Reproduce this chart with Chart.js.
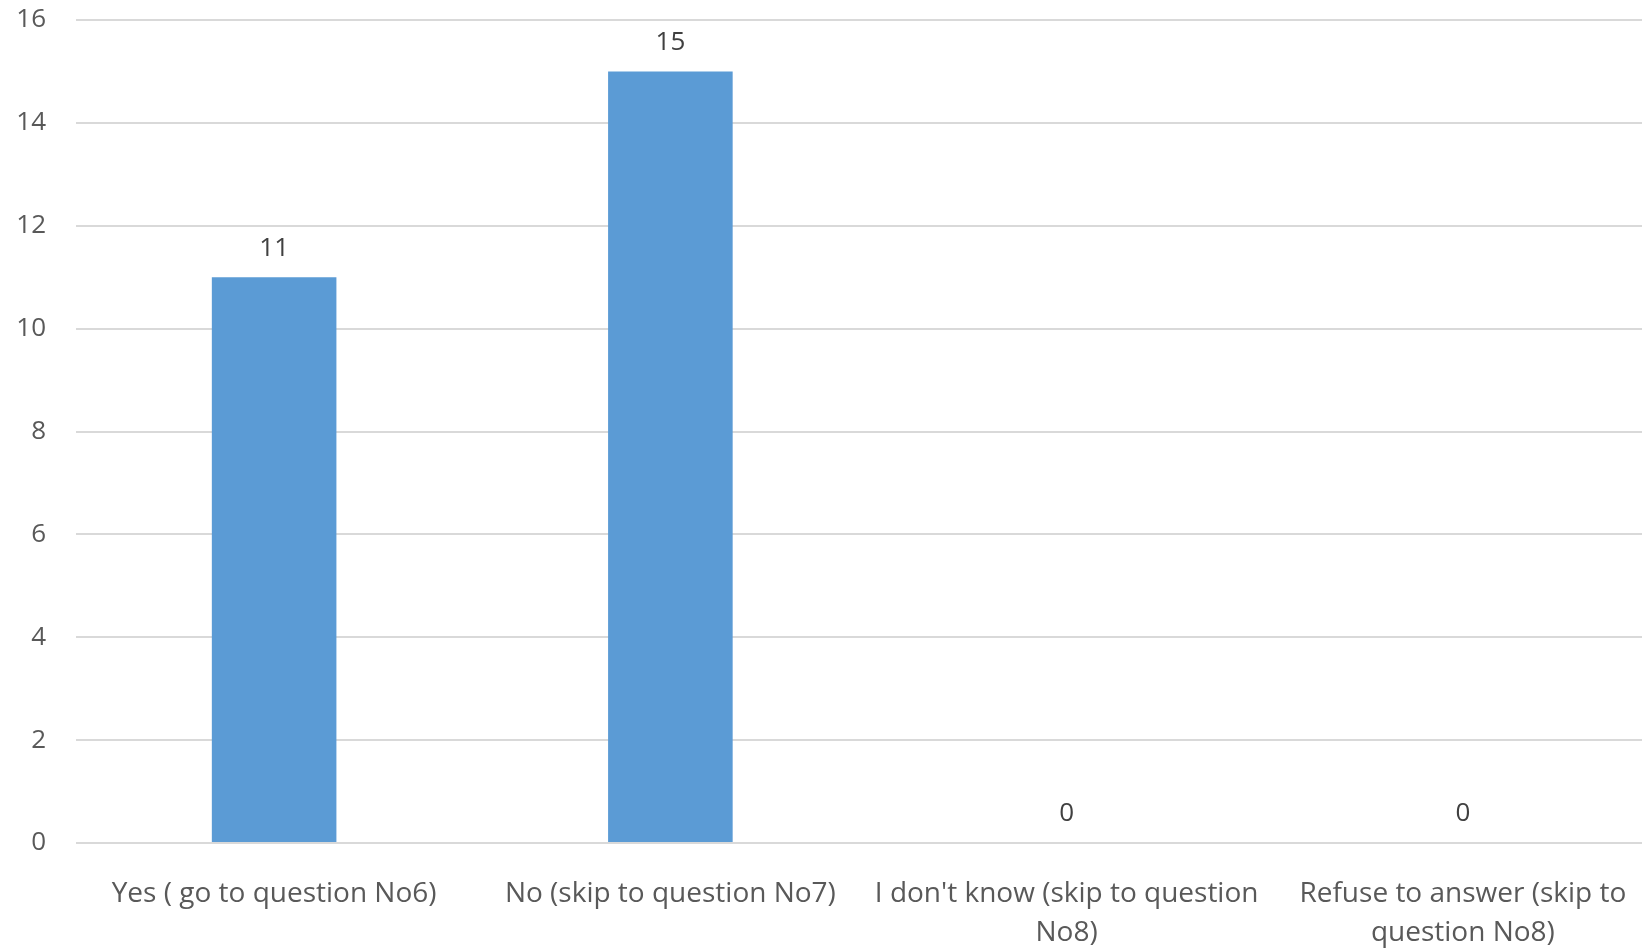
<!DOCTYPE html>
<html>
<head>
<meta charset="utf-8">
<script src="https://cdn.jsdelivr.net/npm/chart.js@4/dist/chart.umd.min.js"></script>
<style>
html,body{margin:0;padding:0;background:#fff;overflow:hidden;}
#wrap{width:1642px;height:951px;overflow:hidden;}
</style>
</head>
<body>
<div id="wrap"><canvas id="c" width="1661" height="951"></canvas></div>
<script>
const categories = [
  ["Yes ( go to question No6)"],
  ["No (skip to question No7)"],
  ["I don't know (skip to question", "No8)"],
  ["Refuse to answer (skip to", "question No8)"]
];
const values = [11, 15, 0, 0];
const yTicks = [0, 2, 4, 6, 8, 10, 12, 14, 16];

const FONT = "'Open Sans', Lato, sans-serif";

const dataLabels = {
  id: 'dataLabels',
  afterDatasetsDraw(chart) {
    const ctx = chart.ctx;
    const meta = chart.getDatasetMeta(0);
    ctx.save();
    ctx.font = "26px " + FONT;
    ctx.fillStyle = '#404040';
    ctx.textAlign = 'center';
    ctx.textBaseline = 'middle';
    meta.data.forEach((bar, i) => {
      ctx.fillText(String(values[i]), bar.x, bar.y - 29);
    });
    ctx.restore();
  }
};

new Chart(document.getElementById('c'), {
  type: 'bar',
  data: {
    labels: categories,
    datasets: [{
      data: values,
      backgroundColor: '#5B9BD5',
      borderWidth: 0,
      categoryPercentage: 1,
      barPercentage: 0.3144
    }]
  },
  options: {
    responsive: false,
    animation: false,
    events: [],
    layout: { padding: 0 },
    plugins: { legend: { display: false }, tooltip: { enabled: false } },
    scales: {
      x: {
        grid: { display: false, drawTicks: false },
        border: { display: false },
        ticks: {
          color: '#595959',
          font: { family: FONT, size: 28, lineHeight: 1.4 },
          padding: 31,
          maxRotation: 0,
          autoSkip: false
        },
        afterFit(s) { s.height = 108; s.paddingLeft = 0; s.paddingRight = 0; }
      },
      y: {
        min: 0, max: 16,
        afterBuildTicks(s) { s.ticks = yTicks.map(v => ({ value: v })); },
        grid: { color: '#D9D9D9', lineWidth: 2, drawTicks: false },
        border: { display: false },
        ticks: {
          color: '#595959',
          font: { family: FONT, size: 26 },
          padding: 30
        },
        afterFit(s) { s.width = 76; s.paddingTop = 20; s.paddingBottom = 0; }
      }
    }
  },
  plugins: [dataLabels]
});
</script>
</body>
</html>
